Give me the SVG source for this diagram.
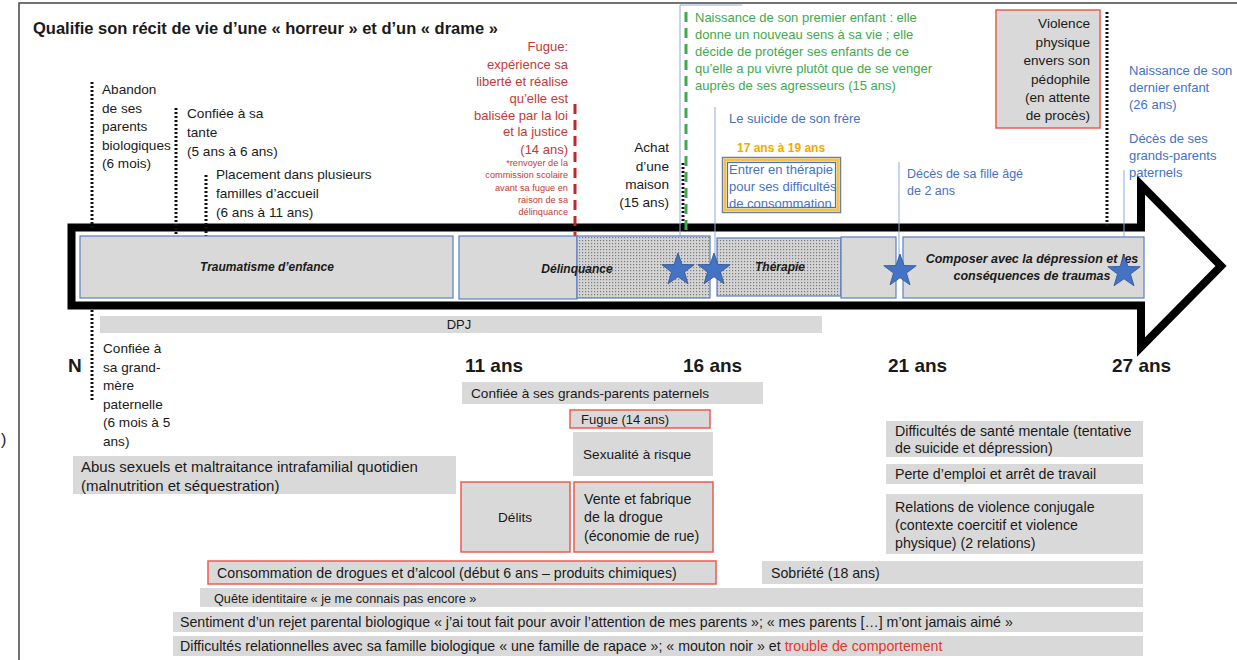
<svg xmlns="http://www.w3.org/2000/svg" width="1237" height="660" viewBox="0 0 1237 660">
<defs>
<pattern id="dots" width="3" height="3" patternUnits="userSpaceOnUse">
<rect width="3" height="3" fill="#d4d4d4"/>
<rect x="0" y="0" width="1.2" height="1.2" fill="#7a7a7a"/>
</pattern>
<path id="star" d="M0,-17 L4,-5.5 L16.2,-5.3 L6.5,2.1 L10,13.8 L0,6.8 L-10,13.8 L-6.5,2.1 L-16.2,-5.3 L-4,-5.5 Z"/>
</defs>
<style>
text{font-family:"Liberation Sans",Arial,sans-serif;font-size:13px;fill:#1a1a1a}
.t{font-size:16.5px;font-weight:bold}
.age{font-size:19px;font-weight:bold}
.ital{font-style:italic;font-weight:bold;font-size:12px}
.red{fill:#c33a36}
.sm{font-size:9.2px}
.grn{fill:#3fa94f}
.blu{fill:#4472c4}
.org{fill:#f2a900;font-weight:bold;font-size:12px}
.m{font-size:13.6px}
.l{font-size:14.2px}
.g{fill:#d9d9d9}
.gb{fill:#d9d9d9;stroke:#5b7fc0;stroke-width:1.2}
.pb{fill:url(#dots);stroke:#5b7fc0;stroke-width:1.2}
.gr{fill:#d9d9d9;stroke:#ee5a4f;stroke-width:1.5}
.dot{stroke:#111;stroke-width:3;stroke-dasharray:2 2;fill:none}
.rdash{stroke:#c0282a;stroke-width:3;stroke-dasharray:10 6;fill:none}
.gdash{stroke:#3fa94f;stroke-width:3;stroke-dasharray:10 6;fill:none}
.thin{stroke:#8eaadb;stroke-width:1;fill:none}
.mid{text-anchor:middle}
.end{text-anchor:end}
.st{fill:#4472c4;stroke:#2f528f;stroke-width:0.8}
</style>
<rect x="19" y="3" width="1240" height="680" fill="#fff" stroke="#444" stroke-width="1.5"/>
<text x="1" y="445" style="font-size:16px">)</text>
<text class="t" x="33" y="34">Qualifie son récit de vie d’une « horreur » et d’un « drame »</text>

<g id="timeline-arrow">
<polygon points="71.5,227.5 1141,227.5 1141,185 1221,266 1141,347 1141,305.5 71.5,305.5" fill="#fff" stroke="#000" stroke-width="8" stroke-linejoin="miter"/>
</g>

<g id="connectors">
<line class="dot" x1="92" y1="82" x2="92" y2="228"/>
<line class="dot" x1="92" y1="310" x2="92" y2="400"/>
<line class="dot" x1="176" y1="108" x2="176" y2="236"/>
<line class="dot" x1="206" y1="175" x2="206" y2="236"/>
<line class="rdash" x1="575" y1="104" x2="575" y2="236"/>
<line class="dot" x1="683" y1="163" x2="683" y2="228"/>
<line class="gdash" x1="686" y1="12" x2="686" y2="236"/>
<line class="dot" x1="1107" y1="12" x2="1107" y2="226"/>
<polyline class="thin" points="742,5 680,5 680,262"/>
<line class="thin" x1="715" y1="107" x2="715" y2="262"/>
<line class="thin" x1="899" y1="162" x2="899" y2="262"/>
<line class="thin" x1="1124" y1="170" x2="1124" y2="262"/>
</g>

<g id="phase-traumatisme">
<rect class="gb" x="80" y="236" width="373" height="62"/>
<text class="ital mid" x="267" y="271">Traumatisme d’enfance</text>
</g>
<g id="phase-delinquance">
<rect class="gb" x="459" y="236" width="118" height="63"/>
<rect class="pb" x="577" y="236" width="133" height="62"/>
<text class="ital mid" x="577" y="273">Délinquance</text>
</g>
<g id="phase-therapie">
<rect class="pb" x="717" y="238" width="124" height="58"/>
<text class="ital mid" x="780" y="271">Thérapie</text>
</g>
<g id="phase-vide">
<rect class="gb" x="841" y="237" width="55" height="61"/>
</g>
<g id="phase-composer">
<rect class="gb" x="903" y="237" width="241" height="61"/>
<text class="ital mid" x="1032" y="263" style="font-size:12.5px">Composer avec la dépression et les</text>
<text class="ital mid" x="1032" y="280" style="font-size:12.5px">conséquences de traumas</text>
</g>
<g id="stars">
<use href="#star" class="st" x="678" y="270"/>
<use href="#star" class="st" x="714" y="270"/>
<use href="#star" class="st" x="900" y="271"/>
<use href="#star" class="st" x="1124" y="272"/>
</g>

<g id="abandon" class="m">
<text class="m" x="102" y="94">Abandon</text>
<text class="m" x="102" y="113">de ses</text>
<text class="m" x="102" y="131">parents</text>
<text class="m" x="102" y="150">biologiques</text>
<text class="m" x="102" y="168">(6 mois)</text>
</g>
<g id="tante">
<text class="m" x="187" y="118">Confiée à sa</text>
<text class="m" x="187" y="137">tante</text>
<text class="m" x="187" y="156">(5 ans à 6 ans)</text>
</g>
<g id="placement">
<text class="m" x="216" y="179">Placement dans plusieurs</text>
<text class="m" x="216" y="198">familles d’accueil</text>
<text class="m" x="216" y="217">(6 ans à 11 ans)</text>
</g>
<g id="fugue-note">
<text class="red end" x="568" y="51">Fugue:</text>
<text class="red end" x="568" y="69">expérience sa</text>
<text class="red end" x="568" y="86">liberté et réalise</text>
<text class="red end" x="568" y="103">qu’elle est</text>
<text class="red end" x="568" y="120">balisée par la loi</text>
<text class="red end" x="568" y="136">et la justice</text>
<text class="red end" x="568" y="154">(14 ans)</text>
<text class="red end sm" x="568" y="166">*renvoyer de la</text>
<text class="red end sm" x="568" y="178">commission scolaire</text>
<text class="red end sm" x="568" y="191">avant sa fugue en</text>
<text class="red end sm" x="568" y="203">raison de sa</text>
<text class="red end sm" x="568" y="215">délinquance</text>
</g>
<g id="achat">
<text class="end m" x="669" y="152">Achat</text>
<text class="end m" x="669" y="171">d’une</text>
<text class="end m" x="669" y="189">maison</text>
<text class="end m" x="669" y="207">(15 ans)</text>
</g>
<g id="premier-enfant">
<text class="grn" x="695" y="22">Naissance de son premier enfant : elle</text>
<text class="grn" x="695" y="39">donne un nouveau sens à sa vie ; elle</text>
<text class="grn" x="695" y="56">décide de protéger ses enfants de ce</text>
<text class="grn" x="695" y="73">qu’elle a pu vivre plutôt que de se venger</text>
<text class="grn" x="695" y="90">auprès de ses agresseurs (15 ans)</text>
</g>
<g id="suicide-frere">
<text class="blu" x="729" y="123">Le suicide de son frère</text>
</g>
<g id="therapie-note">
<text class="org" x="737" y="152">17 ans à 19 ans</text>
<rect x="722.5" y="157.5" width="118" height="55" fill="#fff" stroke="#6d7fa8" stroke-width="1.5"/>
<rect x="725" y="160" width="113" height="50" fill="none" stroke="#f5c242" stroke-width="3"/>
<rect x="727.5" y="162.5" width="108" height="45" fill="none" stroke="#4472c4" stroke-width="1.2"/>
<text class="blu" x="729" y="174">Entrer en thérapie</text>
<text class="blu" x="729" y="191">pour ses difficultés</text>
<text class="blu" x="729" y="208">de consommation</text>
</g>
<g id="deces-fille">
<text class="blu" x="907" y="178" style="font-size:12.5px">Décès de sa fille âgé</text>
<text class="blu" x="907" y="195" style="font-size:12.5px">de 2 ans</text>
</g>
<g id="violence-physique">
<rect class="gr" x="996" y="10" width="104" height="118"/>
<text class="end m" x="1090" y="28">Violence</text>
<text class="end m" x="1090" y="47">physique</text>
<text class="end m" x="1090" y="65">envers son</text>
<text class="end m" x="1090" y="84">pédophile</text>
<text class="end m" x="1090" y="102">(en attente</text>
<text class="end m" x="1090" y="120">de procès)</text>
</g>
<g id="dernier-enfant">
<text class="blu" x="1129" y="75">Naissance de son</text>
<text class="blu" x="1129" y="92">dernier enfant</text>
<text class="blu" x="1129" y="109">(26 ans)</text>
<text class="blu" x="1129" y="143">Décès de ses</text>
<text class="blu" x="1129" y="160">grands-parents</text>
<text class="blu" x="1129" y="177">paternels</text>
</g>

<g id="dpj">
<rect class="g" x="100" y="316" width="722" height="17"/>
<text class="mid" x="459" y="329">DPJ</text>
</g>
<g id="ages">
<text class="age" x="68" y="372">N</text>
<text class="age" x="465" y="372">11 ans</text>
<text class="age" x="683" y="372">16 ans</text>
<text class="age" x="888" y="372">21 ans</text>
<text class="age" x="1112" y="372">27 ans</text>
</g>
<g id="grand-mere">
<text class="m" x="103" y="353">Confiée à</text>
<text class="m" x="103" y="372">sa grand-</text>
<text class="m" x="103" y="390">mère</text>
<text class="m" x="103" y="409">paternelle</text>
<text class="m" x="103" y="427">(6 mois à 5</text>
<text class="m" x="103" y="446">ans)</text>
</g>
<g id="abus">
<rect class="g" x="73" y="456" width="383" height="38"/>
<text x="81" y="472" style="font-size:15px">Abus sexuels et maltraitance intrafamilial quotidien</text>
<text x="81" y="491" style="font-size:15px">(malnutrition et séquestration)</text>
</g>
<g id="grands-parents">
<rect class="g" x="462" y="382" width="301" height="22"/>
<text class="m" x="471" y="398">Confiée à ses grands-parents paternels</text>
</g>
<g id="fugue">
<rect class="gr" x="570" y="410" width="140" height="18"/>
<text x="581" y="424">Fugue (14 ans)</text>
</g>
<g id="sexualite">
<rect class="g" x="573" y="432" width="140" height="44"/>
<text class="m" x="583" y="459">Sexualité à risque</text>
</g>
<g id="delits">
<rect class="gr" x="461" y="482" width="109" height="70"/>
<text class="mid m" x="515" y="522">Délits</text>
</g>
<g id="vente">
<rect class="gr" x="574" y="482" width="139" height="70"/>
<text class="l" x="584" y="504">Vente et fabrique</text>
<text class="l" x="584" y="522">de la drogue</text>
<text class="l" x="584" y="541">(économie de rue)</text>
</g>
<g id="consommation">
<rect class="gr" x="208" y="561" width="508" height="23"/>
<text class="l" x="217" y="578">Consommation de drogues et d’alcool (début 6 ans – produits chimiques)</text>
</g>
<g id="sobriete">
<rect class="g" x="762" y="561" width="381" height="23"/>
<text class="l" x="771" y="578">Sobriété (18 ans)</text>
</g>
<g id="quete">
<rect class="g" x="200" y="588" width="943" height="19"/>
<text x="214" y="603" style="font-size:12.7px">Quête identitaire « je me connais pas encore »</text>
</g>
<g id="rejet">
<rect class="g" x="173" y="612" width="970" height="20"/>
<text class="l" x="180" y="627">Sentiment d’un rejet parental biologique « j’ai tout fait pour avoir l’attention de mes parents »; « mes parents […] m’ont jamais aimé »</text>
</g>
<g id="relationnelles">
<rect class="g" x="173" y="636" width="970" height="20"/>
<text class="l" x="180" y="651">Difficultés relationnelles avec sa famille biologique « une famille de rapace »; « mouton noir » et <tspan style="fill:#e8352a">trouble de comportement</tspan></text>
</g>
<g id="sante-mentale">
<rect class="g" x="886" y="421" width="257" height="36"/>
<text class="l" x="895" y="436">Difficultés de santé mentale (tentative</text>
<text class="l" x="895" y="453">de suicide et dépression)</text>
</g>
<g id="emploi">
<rect class="g" x="886" y="464" width="257" height="20"/>
<text class="l" x="895" y="479">Perte d’emploi et arrêt de travail</text>
</g>
<g id="conjugale">
<rect class="g" x="886" y="494" width="257" height="60"/>
<text class="l" x="895" y="512">Relations de violence conjugale</text>
<text class="l" x="895" y="530">(contexte coercitif et violence</text>
<text class="l" x="895" y="548">physique) (2 relations)</text>
</g>
</svg>
